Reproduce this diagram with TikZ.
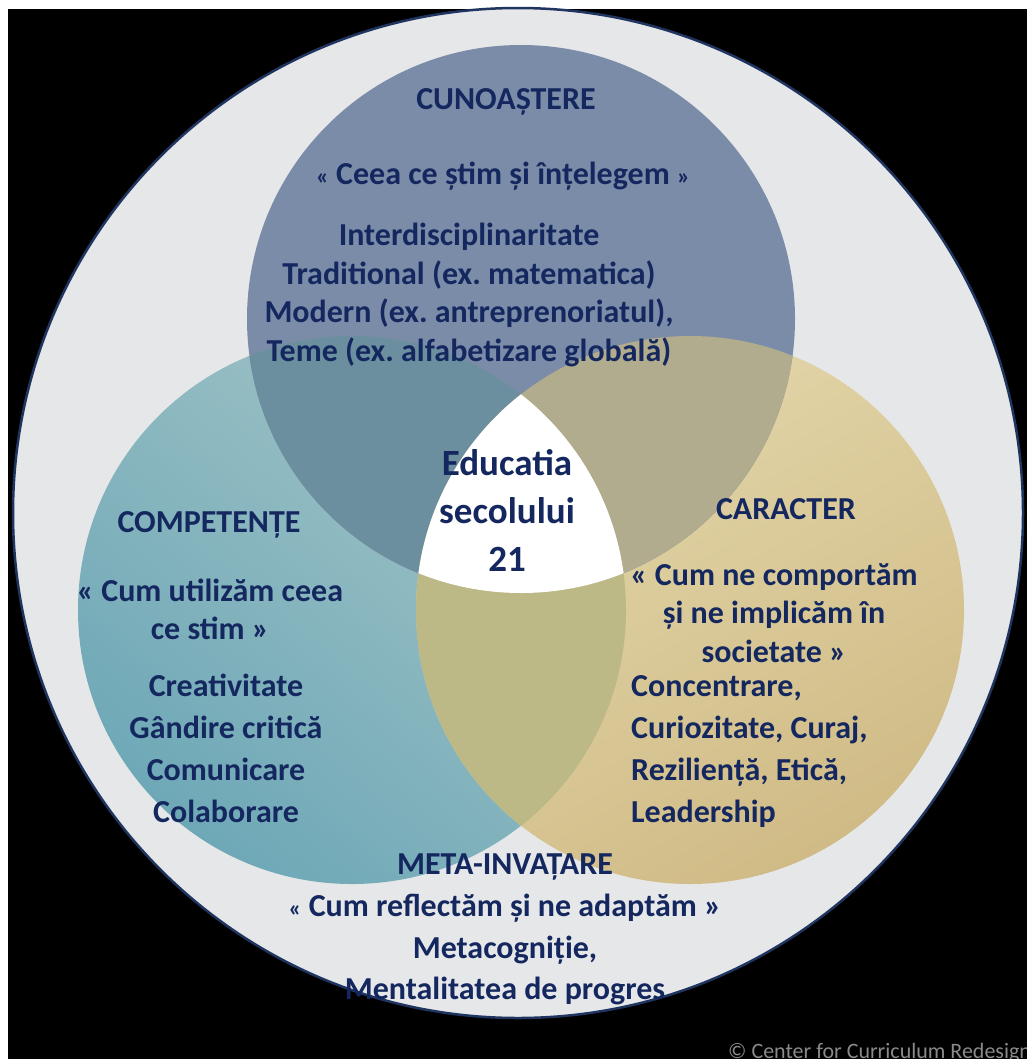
\documentclass[tikz,border=0pt]{standalone}
\usepackage{fontspec}
\setmainfont{Carlito}
\frenchspacing
\definecolor{navytxt}{HTML}{14285F}
\definecolor{ringgray}{HTML}{E6E7E9}
\definecolor{ringline}{HTML}{1F3560}
\definecolor{knowblue}{HTML}{7B8CA8}
\definecolor{skilltop}{HTML}{A3C4C6}
\definecolor{skillbot}{HTML}{6EA8B7}
\definecolor{chartop}{HTML}{E4D8AC}
\definecolor{charbot}{HTML}{D0BB86}
\definecolor{knowskill}{HTML}{6C8FA0}
\definecolor{knowchar}{HTML}{B1AC8E}
\definecolor{skillchar}{HTML}{BCB987}
\definecolor{credgray}{HTML}{8A8A8A}
\newcommand\smallq[1]{{\fontsize{24bp}{24bp}\selectfont #1}}
\tikzset{
  headtxt/.style={text=navytxt,inner sep=0pt,align=center,
    font=\fontsize{32bp}{38.7bp}\selectfont\bfseries},
  listtxt/.style={headtxt,font=\fontsize{32bp}{42bp}\selectfont\bfseries},
  coretxt/.style={headtxt,font=\fontsize{37bp}{48bp}\selectfont\bfseries}
}
\begin{document}
\begin{tikzpicture}[x=1bp,y=-1bp]
\useasboundingbox (0,0) rectangle (1027,1059);
\fill[white] (0,0) rectangle (1027,1059);
\fill[black] (8,9) rectangle (1027,1059);
\coordinate (ring) at (518,513);
\coordinate (know) at (521,319);
\coordinate (skill) at (352,610);
\coordinate (char) at (690,610);
% outer ring
\filldraw[fill=ringgray,draw=ringline,line width=2.5bp] (ring) circle (505);
% three circles
\shade[top color=skilltop,bottom color=skillbot,shading angle=-40] (skill) circle (274);
\shade[top color=chartop,bottom color=charbot,shading angle=30] (char) circle (274);
\fill[knowblue] (know) circle (274);
% overlaps
\begin{scope}
  \clip (know) circle (274);
  \fill[knowskill] (skill) circle (274);
  \fill[knowchar] (char) circle (274);
\end{scope}
\begin{scope}
  \clip (skill) circle (274);
  \fill[skillchar] (char) circle (274);
\end{scope}
\begin{scope}
  \clip (know) circle (274);
  \clip (skill) circle (274);
  \fill[white] (char) circle (274);
\end{scope}
% texts
\node[headtxt] (knowtitle) at (506,102) {CUNOAȘTERE};
\node[headtxt] (knowquote) at (503,176) {\smallq{«} Ceea ce știm și înțelegem \smallq{»}};
\node[headtxt] (knowlist) at (469,295) {Interdisciplinaritate\\Traditional (ex. matematica)\\Modern (ex. antreprenoriatul),\\Teme (ex. alfabetizare globală)};
\node[coretxt] (core) at (507,510) {Educatia\\secolului\\21};
\node[headtxt] (skilltitle) at (209,525) {COMPETENȚE};
\node[headtxt,font=\fontsize{32bp}{38bp}\selectfont\bfseries] (skillquote) at (210,609) {« Cum utilizăm ceea\\ce stim »};
\node[listtxt] (skilllist) at (226,748) {Creativitate\\Gândire critică\\Comunicare\\Colaborare};
\node[headtxt] (chartitle) at (786,509) {CARACTER};
\node[headtxt] (charquote) at (774,613) {« Cum ne comportăm\\și ne implicăm în\\societate »};
\node[listtxt,anchor=west,align=left] (charlist) at (631,752) {Concentrare,\\Curiozitate, Curaj,\\Reziliență, Etică,\\Leadership};
\node[listtxt,font=\fontsize{32bp}{41.7bp}\selectfont\bfseries] (meta) at (505,929.5) {META-INVAȚARE\\\smallq{«} Cum reflectăm și ne adaptăm »\\Metacogniție,\\Mentalitatea de progres};
\node[anchor=base west,inner sep=0pt,text=credgray,font=\fontsize{22bp}{22bp}\selectfont] (credit) at (728,1058) {© Center for Curriculum Redesign};
\end{tikzpicture}
\end{document}
